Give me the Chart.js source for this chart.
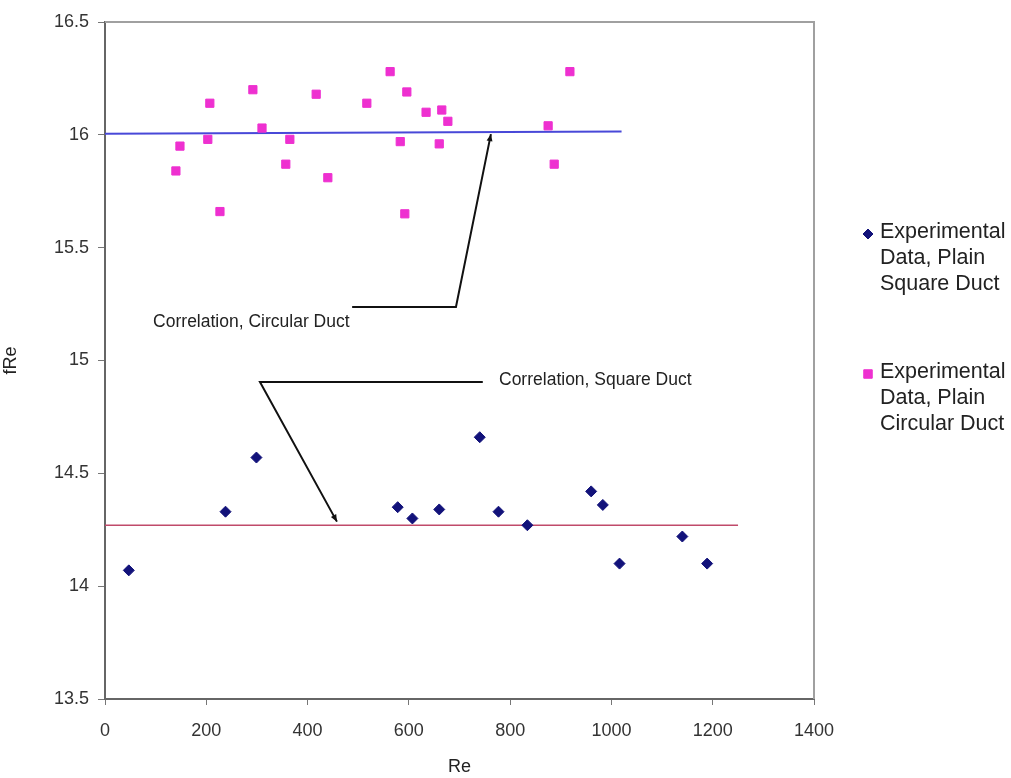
<!DOCTYPE html>
<html>
<head>
<meta charset="utf-8">
<title>fRe vs Re</title>
<script src="https://cdn.jsdelivr.net/npm/chart.js@4.4.1/dist/chart.umd.min.js"></script>
<style>
  html, body { margin: 0; padding: 0; background: #fff; }
</style>
</head>
<body>
<canvas id="fre-chart" width="1011" height="778"></canvas>
<script>
// measured points, plain square duct
const squareRe = [47, 238, 299, 578, 607, 660, 740, 777, 834, 960, 983, 1016, 1140, 1189];
const squareFRe = [14.07, 14.33, 14.57, 14.35, 14.30, 14.34, 14.66, 14.33, 14.27, 14.42, 14.36, 14.10, 14.22, 14.10];

// measured points, plain circular duct
const circularRe = [140, 148, 207, 203, 227, 292, 310, 365, 357, 417, 440, 517, 563, 596, 583, 592, 634, 665, 677, 660, 875, 887, 918];
const circularFRe = [15.84, 15.95, 16.14, 15.98, 15.66, 16.20, 16.03, 15.98, 15.87, 16.18, 15.81, 16.14, 16.28, 16.19, 15.97, 15.65, 16.10, 16.11, 16.06, 15.96, 16.04, 15.87, 16.28];

// correlation lines (end points)
const squareCorrRe = [0, 1250];
const squareCorrFRe = [14.27, 14.27];
const circularCorrRe = [0, 1020];
const circularCorrFRe = [16.005, 16.015];

// axis ranges
const reRange = [0, 1400];
const reStep = 200;
const fReRange = [13.5, 16.5];
const fReStep = 0.5;

const legendLabels = [
  ['Experimental', 'Data, Plain', 'Square Duct'],
  ['Experimental', 'Data, Plain', 'Circular Duct'],
];

const FONT = '"Liberation Sans", Arial, sans-serif';

const toPoints = (xs, ys) => xs.map((x, i) => ({ x: x, y: ys[i] }));

// callout labels with leader lines, given in data units
const callouts = [
  {
    text: 'Correlation, Circular Duct',
    at: { x: 95, y: 15.17 },
    path: [{ x: 488, y: 15.237 }, { x: 693, y: 15.237 }, { x: 762, y: 16.003 }],
  },
  {
    text: 'Correlation, Square Duct',
    at: { x: 778, y: 14.913 },
    path: [{ x: 746, y: 14.905 }, { x: 306, y: 14.905 }, { x: 458, y: 14.286 }],
  },
];

function drawArrowHead(ctx, from, to) {
  const ang = Math.atan2(to.y - from.y, to.x - from.x);
  const len = 7, half = 3;
  ctx.beginPath();
  ctx.moveTo(to.x, to.y);
  ctx.lineTo(to.x - len * Math.cos(ang) + half * Math.sin(ang), to.y - len * Math.sin(ang) - half * Math.cos(ang));
  ctx.lineTo(to.x - len * Math.cos(ang) - half * Math.sin(ang), to.y - len * Math.sin(ang) + half * Math.cos(ang));
  ctx.closePath();
  ctx.fill();
}

const overlay = {
  id: 'overlay',
  afterDraw(chart) {
    const { ctx, chartArea: a, scales: { x, y } } = chart;
    ctx.save();

    // plot frame (top / right edges)
    ctx.strokeStyle = '#a0a0a0';
    ctx.lineWidth = 2;
    ctx.beginPath();
    ctx.moveTo(a.left, a.top);
    ctx.lineTo(a.right, a.top);
    ctx.lineTo(a.right, a.bottom);
    ctx.stroke();

    // callouts
    ctx.lineWidth = 2;
    callouts.forEach(c => {
      const pts = c.path.map(p => ({ x: x.getPixelForValue(p.x), y: y.getPixelForValue(p.y) }));
      ctx.strokeStyle = '#111';
      ctx.fillStyle = '#111';
      ctx.beginPath();
      pts.forEach((p, i) => (i ? ctx.lineTo(p.x, p.y) : ctx.moveTo(p.x, p.y)));
      ctx.stroke();
      drawArrowHead(ctx, pts[pts.length - 2], pts[pts.length - 1]);

      ctx.font = '17.5px ' + FONT;
      ctx.fillStyle = '#222';
      ctx.textAlign = 'left';
      ctx.textBaseline = 'middle';
      ctx.fillText(c.text, x.getPixelForValue(c.at.x), y.getPixelForValue(c.at.y));
    });

    // legend to the right of the plot
    const scatterSets = chart.data.datasets.filter(d => d.inLegend);
    const rowTops = [232, 372];
    ctx.font = '21.5px ' + FONT;
    ctx.textAlign = 'left';
    ctx.textBaseline = 'middle';
    scatterSets.forEach((ds, i) => {
      const top = rowTops[i];
      ctx.fillStyle = ds.backgroundColor;
      ctx.strokeStyle = ds.borderColor;
      ctx.lineWidth = 1;
      Chart.helpers.drawPoint(ctx, {
        pointStyle: ds.pointStyle,
        radius: ds.legendRadius,
        borderWidth: 1,
      }, 868, top + 2);
      ctx.fillStyle = '#222';
      legendLabels[i].forEach((line, j) => ctx.fillText(line, 880, top + j * 26));
    });

    ctx.restore();
  },
};

const ctx = document.getElementById('fre-chart').getContext('2d');

new Chart(ctx, {
  type: 'scatter',
  data: {
    datasets: [
      {
        label: 'Correlation, Circular Duct',
        data: toPoints(circularCorrRe, circularCorrFRe),
        showLine: true,
        borderColor: '#4848d8',
        borderWidth: 2,
        pointRadius: 0,
        order: 3,
      },
      {
        label: 'Correlation, Square Duct',
        data: toPoints(squareCorrRe, squareCorrFRe),
        showLine: true,
        borderColor: '#c04a6a',
        borderWidth: 1.5,
        pointRadius: 0,
        order: 3,
      },
      {
        label: 'Experimental Data, Plain Square Duct',
        data: toPoints(squareRe, squareFRe),
        pointStyle: 'rectRot',
        pointRadius: 5.5,
        backgroundColor: '#12127a',
        borderColor: '#12127a',
        borderWidth: 1,
        legendRadius: 5,
        inLegend: true,
        order: 1,
      },
      {
        label: 'Experimental Data, Plain Circular Duct',
        data: toPoints(circularRe, circularFRe),
        pointStyle: 'rect',
        pointRadius: 5.8,
        backgroundColor: '#ee30d0',
        borderColor: '#ee30d0',
        borderWidth: 1,
        legendRadius: 6,
        inLegend: true,
        order: 1,
      },
    ],
  },
  options: {
    responsive: false,
    animation: false,
    layout: { padding: { top: 22, right: 197, left: 0, bottom: 0 } },
    plugins: {
      legend: { display: false },
      tooltip: { enabled: false },
    },
    scales: {
      x: {
        type: 'linear',
        min: reRange[0],
        max: reRange[1],
        afterFit: s => { s.height = 79; },
        ticks: {
          stepSize: reStep,
          padding: 15,
          color: '#333',
          font: { family: FONT, size: 18 },
          callback: v => String(v),
        },
        grid: { drawOnChartArea: false, tickLength: 6, color: '#777' },
        border: { color: '#666', width: 2 },
        title: {
          display: true,
          text: 'Re',
          color: '#222',
          padding: 0,
          font: { family: FONT, size: 18 },
        },
      },
      y: {
        type: 'linear',
        min: fReRange[0],
        max: fReRange[1],
        afterFit: s => { s.width = 105; },
        ticks: {
          stepSize: fReStep,
          padding: 9,
          color: '#333',
          font: { family: FONT, size: 18 },
          callback: v => String(v),
        },
        grid: { drawOnChartArea: false, tickLength: 7, color: '#777' },
        border: { color: '#666', width: 2 },
        title: {
          display: true,
          text: 'fRe',
          color: '#222',
          padding: 0,
          font: { family: FONT, size: 18 },
        },
      },
    },
  },
  plugins: [overlay],
});
</script>
</body>
</html>
